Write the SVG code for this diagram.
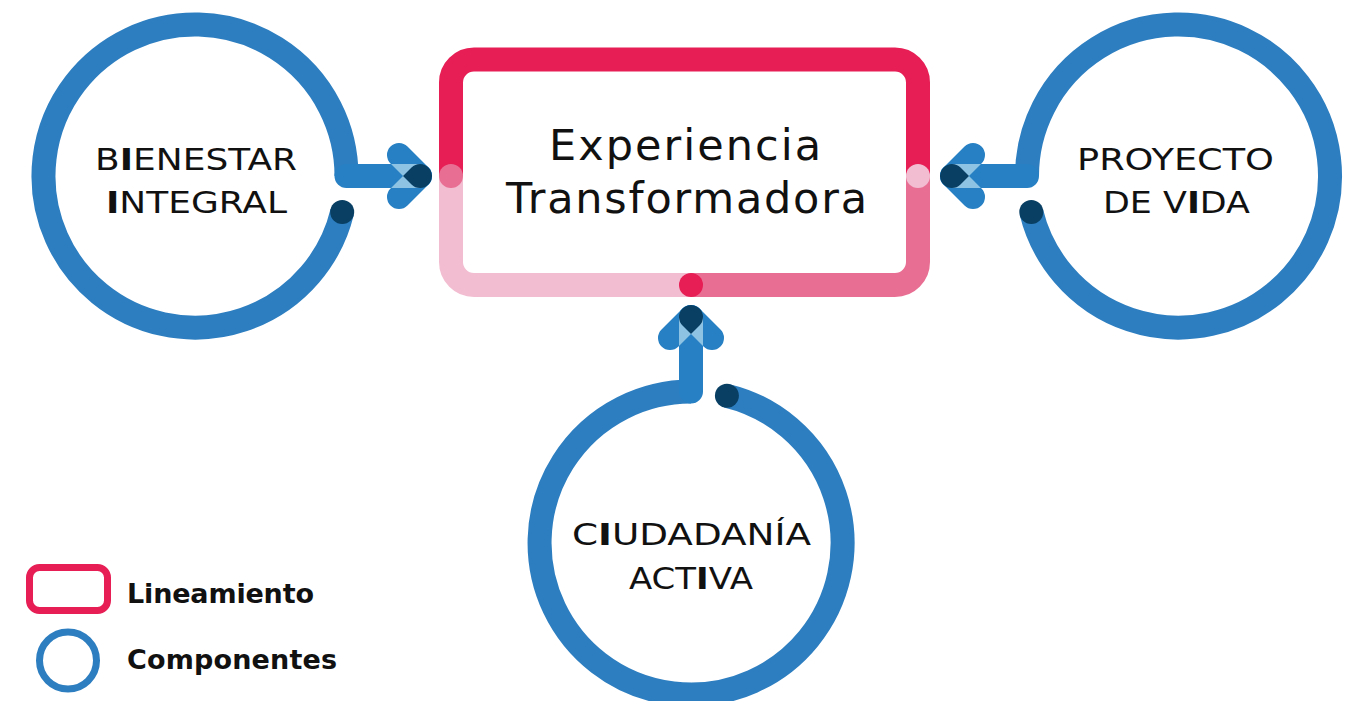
<svg xmlns="http://www.w3.org/2000/svg" xmlns:xlink="http://www.w3.org/1999/xlink" width="1355" height="701" viewBox="0 0 1355 701">
  <style>
    .ring { fill: none; stroke: #2D7EC0; stroke-width: 24; stroke-linecap: butt; }
    .bar { fill: none; stroke: #2680C3; stroke-width: 24; stroke-linecap: round; }
    .dot { fill: #083F63; }
    .seg { fill: none; stroke-width: 24; stroke-linecap: butt; }
    .lbl { font-family: "DejaVu Sans", "Liberation Sans", sans-serif; font-size: 30px; fill: #111; text-anchor: middle; }
    .title { font-family: "DejaVu Sans", "Liberation Sans", sans-serif; font-size: 43px; fill: #111; text-anchor: middle; }
    .leg { font-family: "DejaVu Sans", "Liberation Sans", sans-serif; font-size: 27px; font-weight: 700; fill: #111; }
    .b { font-weight: 700; }
  </style>
  <defs>
    <rect id="armU" x="-12" y="-12" width="53.7" height="24" rx="12" transform="translate(-21,-21) rotate(45)"/>
    <rect id="armL" x="-12" y="-12" width="53.7" height="24" rx="12" transform="translate(-21,21) rotate(-45)"/>
    <clipPath id="clipShaft">
      <rect x="-60" y="-12" width="60" height="24"/>
    </clipPath>
    <clipPath id="clipArmL">
      <use xlink:href="#armL"/>
    </clipPath>
    <g id="head">
      <use xlink:href="#armU" fill="#2680C3"/>
      <use xlink:href="#armL" fill="#2680C3"/>
      <g clip-path="url(#clipShaft)">
        <use xlink:href="#armU" fill="#8EC3E4"/>
        <use xlink:href="#armL" fill="#8EC3E4"/>
      </g>
      <g clip-path="url(#clipArmL)">
        <use xlink:href="#armU" fill="#083F63"/>
      </g>
    </g>
  </defs>

  <!-- Central node: Experiencia Transformadora -->
  <g id="node-experiencia">
    <path class="seg" stroke="#E61E55" d="M451,176 V82.5 A23,23 0 0 1 474,59.5 H895 A23,23 0 0 1 918,82.5 V176"/>
    <path class="seg" stroke="#F2BDD0" d="M451,176 V262 A23,23 0 0 0 474,285 H691"/>
    <path class="seg" stroke="#E96E93" d="M918,176 V262 A23,23 0 0 1 895,285 H691"/>
    <circle cx="451" cy="176" r="12" fill="#E96E93"/>
    <circle cx="918" cy="176" r="12" fill="#F2BDD0"/>
    <circle cx="691" cy="285" r="12" fill="#E61E55"/>
    <text class="title" x="685" y="160" textLength="272" lengthAdjust="spacing">Experiencia</text>
    <text class="title" x="686.5" y="213" textLength="361" lengthAdjust="spacing">Transformadora</text>
  </g>

  <!-- Component: Bienestar Integral -->
  <g id="node-bienestar">
    <path class="ring" d="M346.5,176 A151.5,151.5 0 1 0 342.2,211.9"/>
    <circle class="dot" cx="342.2" cy="211.9" r="12"/>
    <text class="lbl" x="196" y="170" textLength="202" lengthAdjust="spacingAndGlyphs">B<tspan class="b">I</tspan>ENESTAR</text>
    <text class="lbl" x="196.5" y="213" textLength="181" lengthAdjust="spacingAndGlyphs"><tspan class="b">I</tspan>NTEGRAL</text>
  </g>

  <!-- Component: Proyecto de Vida -->
  <g id="node-proyecto">
    <path class="ring" d="M1027,176 A151.5,151.5 0 1 1 1031.3,211.9"/>
    <circle class="dot" cx="1031.3" cy="211.9" r="12"/>
    <text class="lbl" x="1175.5" y="170" textLength="197" lengthAdjust="spacingAndGlyphs">PROYECTO</text>
    <text class="lbl" x="1176.5" y="213" textLength="147" lengthAdjust="spacingAndGlyphs">DE V<tspan class="b">I</tspan>DA</text>
  </g>

  <!-- Component: Ciudadania Activa -->
  <g id="node-ciudadania">
    <path class="ring" d="M691,391.5 A151.5,151.5 0 1 0 726.9,395.8"/>
    <circle class="dot" cx="726.9" cy="395.8" r="12"/>
    <text class="lbl" x="691.5" y="545" textLength="239" lengthAdjust="spacingAndGlyphs">C<tspan class="b">I</tspan>UDADANÍA</text>
    <text class="lbl" x="691" y="589" textLength="124" lengthAdjust="spacingAndGlyphs">ACT<tspan class="b">I</tspan>VA</text>
  </g>

  <!-- Connectors (arrows) -->
  <g id="connectors">
    <path class="bar" d="M346.5,176 H420"/>
    <use xlink:href="#head" transform="translate(420,176)"/>
    <path class="bar" d="M1027,176 H952"/>
    <use xlink:href="#head" transform="translate(952,176) rotate(180)"/>
    <path class="bar" d="M691,391.5 V317"/>
    <use xlink:href="#head" transform="translate(691,317) rotate(-90)"/>
  </g>

  <!-- Legend -->
  <g id="legend">
    <rect x="29.5" y="567.5" width="78" height="43" rx="10" fill="none" stroke="#E61E55" stroke-width="7"/>
    <circle cx="68" cy="660.5" r="28.5" fill="none" stroke="#2D7EC0" stroke-width="7"/>
    <text class="leg" x="127" y="603" textLength="187" lengthAdjust="spacing">Lineamiento</text>
    <text class="leg" x="127" y="669" textLength="210" lengthAdjust="spacing">Componentes</text>
  </g>
</svg>
